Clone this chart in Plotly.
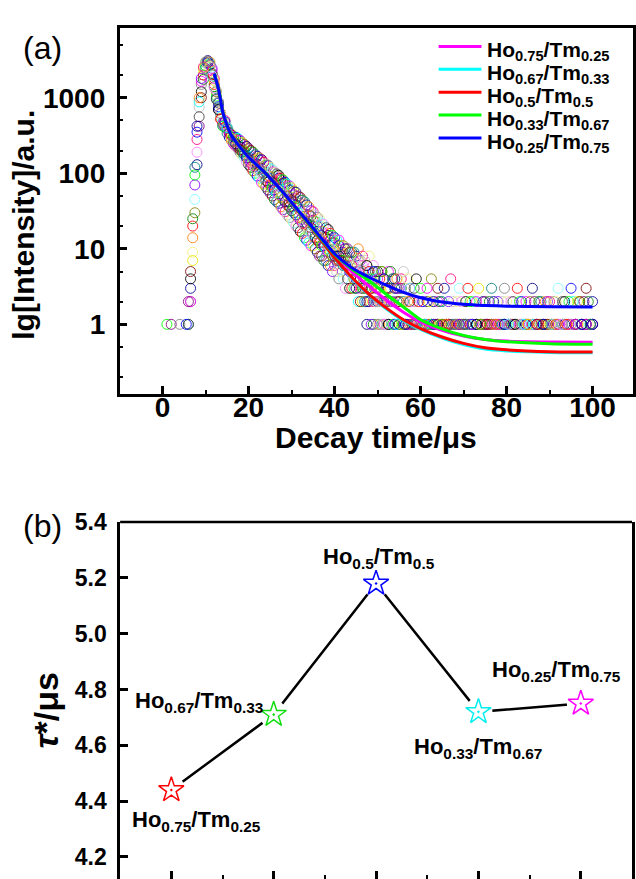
import plotly.graph_objects as go

W, H = 636, 879
FONT = "Liberation Sans, Arial, Helvetica, sans-serif"

# ---------------------------------------------------------------------------
# (a) luminescence decay: photon counts per 0.5 us channel + fitted curves
# ---------------------------------------------------------------------------
CHANNEL_US = 0.5

compositions = [
    "Ho<sub>0.75</sub>/Tm<sub>0.25</sub>",
    "Ho<sub>0.67</sub>/Tm<sub>0.33</sub>",
    "Ho<sub>0.5</sub>/Tm<sub>0.5</sub>",
    "Ho<sub>0.33</sub>/Tm<sub>0.67</sub>",
    "Ho<sub>0.25</sub>/Tm<sub>0.75</sub>",
]
fit_colors = ["#FF00FF", "#00FFFF", "#FF0000", "#00FF00", "#0000FF"]

# measured counts, split into: background (0-5.5 us), pulse (6-14 us),
# decay (14.5-44 us) and tail (44.5-100 us)
ho075_pre = [0, 0, 1, 0, 0, 0, 0, 0, 0, 0, 0, 0]
ho075_pulse = [1, 3, 14, 70, 280, 750, 1500, 2300, 2850, 3050, 2750, 2100, 1500, 1050, 760, 560, 450]
ho075_decay = [470, 400, 350, 320, 300, 295, 285, 270, 250, 240,
               228, 215, 196, 192, 178, 170, 150, 152, 140, 128,
               126, 115, 104, 102, 92, 86, 82, 74, 72, 64,
               60, 55, 52, 46, 44, 40, 38, 33, 32, 28,
               27, 24, 23, 20, 20, 17, 17, 14, 15, 13,
               12, 12, 10, 11, 9, 9, 8, 8, 7, 7]
ho075_tail = [6, 5, 7, 4, 5, 4, 3, 5, 3, 4, 3,
              3, 2, 1, 2, 3, 1, 2, 2, 1, 3,
              1, 2, 1, 1, 0, 2, 1, 1, 0, 1,
              1, 0, 1, 2, 0, 1, 1, 0, 1, 0,
              1, 1, 0, 1, 0, 0, 1, 1, 0, 1,
              0, 1, 1, 0, 2, 0, 1, 0, 1, 0,
              1, 0, 0, 1, 1, 0, 1, 0, 1, 1,
              0, 1, 0, 1, 0, 1, 1, 0, 0, 1,
              1, 0, 1, 0, 1, 0, 0, 1, 1, 0,
              0, 1, 1, 0, 1, 0, 1, 0, 0, 1,
              1, 0, 1, 0, 2, 1, 0, 1, 0, 1, 1]

ho067_pre = [0, 0, 0, 0, 1, 0, 0, 0, 0, 0, 0, 0]
ho067_pulse = [0, 2, 9, 45, 190, 560, 1200, 2000, 2650, 2950, 2850, 2300, 1700, 1200, 850, 620, 470]
ho067_decay = [410, 340, 300, 270, 245, 228, 210, 190, 172, 160,
               142, 130, 120, 108, 100, 92, 86, 76, 72, 66,
               60, 55, 50, 45, 42, 40, 36, 33, 31, 28,
               26, 24, 22, 20, 19, 17, 16, 14, 13, 12,
               11, 11, 10, 9, 8, 8, 7, 7, 6, 6,
               5, 6, 5, 4, 5, 4, 3, 4, 3, 3]
ho067_tail = [3, 4, 2, 3, 2, 3, 1, 2, 3, 1, 2,
              2, 1, 2, 1, 1, 2, 0, 1, 1, 2,
              1, 0, 1, 1, 0, 1, 0, 2, 1, 0,
              1, 0, 0, 1, 0, 1, 0, 0, 1, 1,
              0, 0, 1, 0, 1, 0, 0, 1, 0, 0,
              1, 0, 0, 1, 0, 0, 1, 0, 0, 1,
              0, 1, 0, 0, 1, 0, 0, 1, 0, 0,
              1, 0, 0, 1, 0, 0, 0, 1, 0, 1,
              0, 0, 1, 0, 0, 1, 0, 0, 1, 0,
              0, 1, 0, 0, 1, 0, 0, 1, 0, 0,
              1, 0, 0, 1, 0, 1, 0, 0, 1, 0, 1]

ho050_pre = [0, 0, 0, 0, 0, 0, 0, 0, 1, 0, 0, 0]
ho050_pulse = [1, 4, 20, 95, 350, 880, 1650, 2450, 2950, 3100, 2650, 2000, 1400, 980, 700, 530, 430]
ho050_decay = [500, 410, 350, 330, 275, 270, 232, 225, 200, 198,
               170, 168, 150, 150, 130, 132, 112, 116, 100, 104,
               88, 90, 76, 78, 66, 68, 56, 60, 50, 50,
               42, 44, 36, 38, 30, 32, 26, 27, 22, 23,
               19, 20, 16, 17, 14, 15, 12, 13, 10, 10,
               9, 9, 8, 8, 7, 7, 6, 6, 5, 5]
ho050_tail = [4, 3, 5, 2, 3, 2, 2, 3, 1, 2, 2,
              1, 2, 1, 1, 2, 1, 0, 1, 1, 1,
              0, 1, 1, 0, 1, 0, 1, 1, 0, 1,
              0, 1, 0, 0, 1, 1, 0, 0, 1, 0,
              1, 0, 0, 1, 0, 0, 1, 0, 1, 0,
              0, 1, 0, 0, 1, 0, 0, 1, 0, 0,
              1, 0, 1, 0, 0, 0, 1, 0, 0, 1,
              0, 0, 1, 0, 1, 0, 0, 0, 1, 0,
              0, 1, 0, 0, 0, 1, 0, 1, 0, 0,
              1, 0, 0, 1, 0, 0, 1, 0, 0, 1,
              0, 0, 1, 0, 1, 0, 0, 1, 0, 0, 1]

ho033_pre = [0, 0, 0, 0, 0, 0, 0, 0, 0, 0, 0, 1]
ho033_pulse = [0, 2, 7, 30, 130, 420, 1000, 1750, 2450, 2900, 2950, 2450, 1800, 1250, 880, 640, 490]
ho033_decay = [450, 390, 340, 320, 305, 300, 290, 272, 255, 240,
               226, 212, 200, 190, 176, 168, 160, 150, 140, 132,
               128, 120, 112, 104, 98, 94, 86, 82, 76, 72,
               68, 64, 58, 56, 50, 48, 44, 42, 38, 36,
               32, 31, 28, 26, 25, 22, 21, 19, 18, 16,
               15, 14, 13, 13, 11, 11, 10, 10, 9, 9]
ho033_tail = [9, 8, 10, 7, 8, 7, 6, 8, 5, 6, 5,
              5, 4, 5, 4, 3, 5, 3, 4, 4, 3,
              2, 3, 2, 1, 2, 3, 1, 2, 1, 1,
              1, 2, 1, 0, 1, 1, 1, 0, 2, 1,
              1, 0, 1, 1, 0, 1, 0, 1, 1, 0,
              1, 1, 0, 0, 1, 0, 1, 0, 1, 0,
              0, 1, 0, 1, 0, 1, 0, 0, 1, 1,
              0, 1, 1, 0, 0, 1, 0, 1, 0, 0,
              1, 0, 0, 1, 1, 0, 1, 0, 0, 1,
              0, 1, 0, 1, 0, 0, 1, 0, 1, 0,
              1, 0, 1, 0, 0, 1, 0, 1, 0, 1, 1]

ho025_pre = [0, 0, 0, 0, 0, 0, 0, 0, 0, 0, 0, 0]
ho025_pulse = [2, 5, 25, 120, 420, 1000, 1800, 2550, 3000, 3050, 2600, 1950, 1350, 950, 690, 520, 420]
ho025_decay = [480, 400, 330, 290, 265, 245, 220, 205, 190, 176,
               160, 145, 136, 126, 118, 110, 100, 96, 88, 80,
               76, 70, 64, 60, 55, 52, 48, 45, 42, 38,
               36, 32, 30, 28, 26, 24, 22, 20, 19, 17,
               16, 15, 14, 13, 12, 11, 11, 10, 9, 9,
               8, 8, 7, 7, 7, 6, 6, 6, 5, 6]
ho025_tail = [6, 5, 7, 5, 6, 4, 6, 5, 4, 5, 4,
              4, 3, 5, 4, 3, 3, 5, 4, 3, 4,
              3, 4, 5, 3, 4, 3, 2, 3, 4, 2,
              3, 2, 1, 3, 2, 4, 2, 1, 3, 2,
              2, 3, 1, 2, 4, 2, 1, 2, 3, 2,
              1, 2, 3, 2, 1, 2, 2, 3, 1, 2,
              2, 1, 2, 3, 2, 1, 2, 0, 2, 3,
              2, 1, 2, 2, 1, 3, 2, 2, 1, 2,
              1, 2, 3, 2, 1, 2, 2, 1, 2, 2,
              2, 1, 2, 2, 3, 1, 2, 2, 1, 2,
              3, 2, 1, 2, 2, 1, 2, 3, 2, 1, 2]

measured_counts = [
    ho075_pre + ho075_pulse + ho075_decay + ho075_tail,
    ho067_pre + ho067_pulse + ho067_decay + ho067_tail,
    ho050_pre + ho050_pulse + ho050_decay + ho050_tail,
    ho033_pre + ho033_pulse + ho033_decay + ho033_tail,
    ho025_pre + ho025_pulse + ho025_decay + ho025_tail,
]

# fitted decay curves, sampled along the time axis
fit_t = [12, 13, 14, 15, 16, 18, 20, 24, 28, 32, 36, 40, 44, 48, 52, 56, 60, 65, 70, 75, 80, 90, 100]
fit_ho075 = [2075, 1300, 640, 430, 315, 222, 163, 99, 56, 29.5, 15.5, 8.2, 5.0, 3.2, 2.1, 1.45, 1.08, 0.83, 0.70, 0.63, 0.60, 0.585, 0.58]
fit_ho067 = [2075, 1300, 640, 430, 315, 222, 163, 99, 56, 29, 15, 7.5, 4.1, 2.45, 1.6, 1.12, 0.86, 0.66, 0.54, 0.47, 0.445, 0.425, 0.42]
fit_ho050 = [2075, 1300, 640, 430, 315, 222, 163, 99, 56, 29, 15, 7.6, 4.2, 2.5, 1.65, 1.15, 0.88, 0.68, 0.56, 0.49, 0.46, 0.435, 0.43]
fit_ho033 = [2075, 1300, 640, 430, 315, 222, 163, 99, 56, 29.5, 15.5, 8.4, 5.4, 3.8, 2.5, 1.7, 1.15, 0.87, 0.71, 0.63, 0.59, 0.555, 0.545]
fit_ho025 = [2075, 1300, 640, 430, 315, 222, 163, 99, 56, 30, 16, 8.6, 5.6, 4.2, 3.3, 2.65, 2.25, 1.98, 1.85, 1.78, 1.74, 1.71, 1.70]
fitted_curves = [fit_ho075, fit_ho067, fit_ho050, fit_ho033, fit_ho025]

# incremental colour list used for the individual measured points
point_palette = ["#000000", "#FF0000", "#00FF00", "#0000FF", "#00FFFF", "#FF00FF",
                 "#E8E800", "#808000", "#000080", "#800080", "#800000", "#008000",
                 "#008080", "#0000A0", "#FF8000", "#8000FF", "#FF0080", "#C0C0C0",
                 "#808080", "#F0F080", "#80FFFF", "#FF80FF", "#404040"]

# ---------------------------------------------------------------------------
# (b) average lifetime for each composition
# ---------------------------------------------------------------------------
sample_pos = [1, 2, 3, 4, 5]
tau_us = [4.44, 4.71, 5.18, 4.72, 4.75]
star_colors = ["#FF0000", "#11DD11", "#0000FF", "#00EEEE", "#FF00FF"]
tau_ticks = [4.2, 4.4, 4.6, 4.8, 5.0, 5.2, 5.4]

fig = go.Figure()

for s, counts in enumerate(measured_counts):
    xs = [i * CHANNEL_US for i in range(len(counts))]
    ys = [c if c > 0 else None for c in counts]
    cols = [point_palette[(i + 5 * s) % len(point_palette)] for i in range(len(counts))]
    fig.add_trace(go.Scatter(
        x=xs, y=ys, mode="markers", xaxis="x", yaxis="y",
        marker=dict(symbol="circle-open", size=10, color=cols, line=dict(width=1)),
        opacity=0.85, showlegend=False, hoverinfo="skip"))

for name, vals, col in zip(compositions, fitted_curves, fit_colors):
    fig.add_trace(go.Scatter(
        x=fit_t, y=vals, mode="lines", xaxis="x", yaxis="y",
        line=dict(color=col, width=3, shape="spline", smoothing=0.6),
        name=name, showlegend=False))

# lifetime panel: connecting line, white gap around each star, then the stars
fig.add_trace(go.Scatter(x=sample_pos, y=tau_us, mode="lines", xaxis="x2", yaxis="y2",
                         line=dict(color="black", width=2.5), showlegend=False, hoverinfo="skip"))
fig.add_trace(go.Scatter(x=sample_pos, y=tau_us, mode="markers", xaxis="x2", yaxis="y2",
                         marker=dict(symbol="circle", size=28, color="white"),
                         showlegend=False, hoverinfo="skip"))
fig.add_trace(go.Scatter(x=sample_pos, y=tau_us, mode="markers", xaxis="x2", yaxis="y2",
                         marker=dict(symbol="star-dot", size=19, color="white",
                                     line=dict(color=star_colors, width=1.5)),
                         showlegend=False))

tick_font = dict(family=FONT, size=28, color="black", weight="bold")
common_axis = dict(showgrid=False, zeroline=False, showline=True, linecolor="black",
                   linewidth=2.5, ticks="inside", tickcolor="black", tickwidth=2.5, ticklen=8)

fig.update_layout(
    width=W, height=H, margin=dict(l=0, r=0, t=0, b=0),
    paper_bgcolor="white", plot_bgcolor="white",
    font=dict(family=FONT, color="black"),
    showlegend=False,
    xaxis=dict(common_axis, domain=[120 / W, 635 / W], range=[-10, 109.4], anchor="y",
               mirror=True, tickvals=[0, 20, 40, 60, 80, 100], tickfont=tick_font,
               ticklabelstandoff=-13,
               minor=dict(tickvals=[10, 30, 50, 70, 90], ticks="inside", ticklen=4,
                          tickwidth=2, tickcolor="black")),
    yaxis=dict(common_axis, type="log", domain=[1 - 386.7 / H, 1 - 15 / H],
               range=[-0.922, 3.926], anchor="x", mirror=True,
               tickvals=[1, 10, 100, 1000], ticktext=["1", "10", "100", "1000"],
               tickfont=tick_font, ticklabelstandoff=6,
               minor=dict(tickvals=[0.2, 0.5, 2, 5, 20, 50, 200, 500, 2000, 5000],
                          ticks="inside", ticklen=4, tickwidth=2, tickcolor="black")),
    xaxis2=dict(common_axis, showline=False, domain=[120.5 / W, 634 / W], range=[0.5, 5.5],
                anchor="y2", tickvals=sample_pos, showticklabels=False,
                minor=dict(tickvals=[1.5, 2.5, 3.5, 4.5], ticks="inside", ticklen=4,
                           tickwidth=2, tickcolor="black")),
    yaxis2=dict(common_axis, domain=[0, 1 - 516.7 / H], range=[4.121, 5.4], anchor="x2",
                mirror=True, tickvals=tau_ticks, ticktext=[f"{v:.1f}" for v in tau_ticks],
                tickfont=dict(tick_font, size=23), ticklabelstandoff=6),
)

shapes = [dict(type="line", xref="x2 domain", yref="y2 domain", x0=0, x1=1, y0=1, y1=1,
               line=dict(color="black", width=2.5))]

annotations = [
    dict(text="(a)", x=43 / W, y=1 - 36 / H, font=dict(size=32)),
    dict(text="(b)", x=43 / W, y=1 - 521 / H, font=dict(size=32)),
    dict(text="<b>Decay time/μs</b>", x=377 / W, y=1 - 431 / H, font=dict(size=30)),
    dict(text="<b>lg[Intensity]/a.u.</b>", x=24 / W, y=1 - 215 / H, textangle=-90,
         font=dict(size=30)),
    dict(text="<b><i>τ</i>*/μs</b>", x=46 / W, y=1 - 708 / H, textangle=-90,
         font=dict(size=34)),
]
for a in annotations:
    a.update(xref="paper", yref="paper", xanchor="center", yanchor="middle", showarrow=False)
    a["font"] = dict(family=FONT, color="black", **a["font"])

# key for the fitted curves: short line sample followed by the composition
KEY_X0, KEY_X1, KEY_TEXT_X = 440, 483, 487
KEY_TOP, KEY_STEP = 34, 23.2
for k, (name, col) in enumerate(zip(compositions, fit_colors)):
    yk = KEY_TOP + k * KEY_STEP
    shapes.append(dict(type="line", xref="paper", yref="paper",
                       x0=KEY_X0 / W, x1=KEY_X1 / W, y0=1 - yk / H, y1=1 - yk / H,
                       line=dict(color=col, width=3)))
    annotations.append(dict(text="<b>" + name + "</b>", xref="paper", yref="paper",
                            x=KEY_TEXT_X / W, y=1 - (yk + 5) / H, xanchor="left",
                            yanchor="middle", showarrow=False,
                            font=dict(family=FONT, size=21, color="black")))

fig.update_layout(shapes=shapes, annotations=annotations)

# composition labels beside each lifetime point
label_offsets = [(25, -31, "center"), (-9, 13, "right"), (3, 25, "center"),
                 (0, -36, "center"), (-24, 32, "center")]
for xv, yv, name, (dx, dy, xa) in zip(sample_pos, tau_us, compositions, label_offsets):
    fig.add_annotation(x=xv, y=yv, xref="x2", yref="y2", text="<b>" + name + "</b>",
                       showarrow=False, xshift=dx, yshift=dy, xanchor=xa, yanchor="middle",
                       font=dict(family=FONT, size=22, color="black"))

fig.write_html("out.html")
